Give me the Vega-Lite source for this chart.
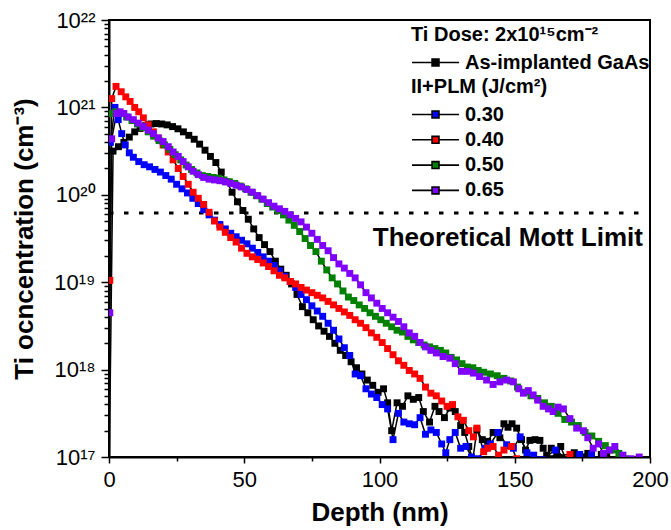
{
"$schema": "https://vega.github.io/schema/vega-lite/v6.json",
"width": 541, "height": 437,
"autosize": {"type": "none"},
"padding": {"left": 109, "top": 20, "right": 21, "bottom": 73},
"background": "white",
"config": {
  "view": {"stroke": "black", "strokeWidth": 2},
  "font": "Liberation Sans",
  "axis": {"domainColor": "black", "domainWidth": 2, "tickColor": "black", "tickWidth": 1.5, "labelColor": "black", "titleColor": "black", "grid": false, "labelFont": "Liberation Sans", "labelFontSize": 22, "titleFont": "Liberation Sans", "titleFontSize": 26, "titleFontWeight": "bold", "labelOverlap": false, "labelFlush": false},
  "legend": {"labelFont": "Liberation Sans", "labelFontSize": 20, "labelFontWeight": "bold", "labelColor": "black", "titleFont": "Liberation Sans", "titleFontSize": 20, "titleFontWeight": "bold", "titleColor": "black", "symbolSize": 529, "symbolStrokeColor": "black", "symbolStrokeWidth": 1.6, "labelOffset": 29, "rowPadding": 2.3, "padding": 0, "titlePadding": 5, "labelLimit": 400, "titleLimit": 400}
},
"datasets": {
  "mott": [{"d": 0, "c": 6.2e19}, {"d": 200, "c": 6.2e19}],
  "note": [{"d": 197.4, "c": 3.2e19, "t": "Theoretical Mott Limit"}],
  "asimp": [
    {"d":0,"c":5.01e16},{"d":1.5,"c":3.16e20},{"d":3.5,"c":3.55e20},{"d":5.5,"c":3.98e20},{"d":7.5,"c":4.57e20},{"d":9.5,"c":5.25e20},{"d":11.5,"c":5.75e20},{"d":13.5,"c":6.17e20},{"d":15.5,"c":6.46e20},{"d":17.5,"c":6.53e20},{"d":19.5,"c":6.46e20},{"d":21.5,"c":6.31e20},{"d":23.5,"c":6.03e20},{"d":25.5,"c":5.69e20},{"d":27.5,"c":5.25e20},{"d":29.5,"c":4.79e20},{"d":31.5,"c":4.32e20},{"d":33.5,"c":3.80e20},{"d":35.5,"c":3.24e20},{"d":37.5,"c":2.75e20},{"d":39.5,"c":2.34e20},{"d":41.5,"c":1.82e20},{"d":43.5,"c":1.41e20},{"d":45.5,"c":1.07e20},{"d":47.5,"c":8.32e19},{"d":49.5,"c":6.61e19},{"d":51.5,"c":5.25e19},{"d":53.5,"c":4.07e19},{"d":55.5,"c":3.24e19},{"d":57.5,"c":2.69e19},{"d":59.5,"c":2.24e19},{"d":61.5,"c":1.74e19},{"d":63.5,"c":1.41e19},{"d":65.5,"c":1.20e19},{"d":67.5,"c":9.55e18},{"d":69.5,"c":7.24e18},{"d":71.5,"c":5.25e18},{"d":73.5,"c":4.47e18},{"d":75.5,"c":3.72e18},{"d":77.5,"c":3.16e18},{"d":79.5,"c":2.75e18},{"d":81.5,"c":2.40e18},{"d":83.5,"c":2.00e18},{"d":85.5,"c":1.66e18},{"d":87.5,"c":1.45e18},{"d":89.5,"c":1.23e18},{"d":91.5,"c":1.05e18},{"d":93.5,"c":8.91e17},{"d":95.5,"c":7.59e17},{"d":97.5,"c":6.61e17},{"d":99.5,"c":5.50e17},{"d":101.5,"c":6.03e17},{"d":103,"c":4.17e17},{"d":104.5,"c":2.00e17},{"d":106.5,"c":4.17e17},{"d":108.5,"c":3.80e17},{"d":110.5,"c":5.01e17},{"d":112.5,"c":4.57e17},{"d":114.5,"c":4.79e17},{"d":116.2,"c":3.31e17},{"d":118.5,"c":2.51e17},{"d":120.5,"c":3.80e17},{"d":122,"c":3.31e17},{"d":124,"c":2.82e17},{"d":126,"c":3.63e17},{"d":128,"c":3.31e17},{"d":130,"c":2.29e17},{"d":131.5,"c":1.91e17},{"d":133,"c":1.32e17},{"d":134.5,"c":9.33e16},{"d":136,"c":2.04e17},{"d":138,"c":1.58e17},{"d":140,"c":1.51e17},{"d":142,"c":1.91e17},{"d":144.5,"c":1.66e17},{"d":146,"c":2.40e17},{"d":147.5,"c":2.19e17},{"d":149,"c":2.40e17},{"d":150.7,"c":2.14e17},{"d":152.5,"c":1.58e17},{"d":154,"c":1.20e17},{"d":155.6,"c":1.55e17},{"d":157.5,"c":1.58e17},{"d":159.3,"c":1.55e17},{"d":160.5,"c":1.26e17},{"d":161.8,"c":1.05e17},{"d":163.5,"c":1.26e17},{"d":165.5,"c":1.15e17},{"d":167,"c":1.32e17},{"d":169,"c":9.12e16},{"d":172,"c":1.12e17},{"d":175,"c":1.00e17},{"d":177,"c":1.10e17},{"d":180,"c":9.33e16},{"d":182,"c":1.07e17},{"d":184,"c":1.10e17},{"d":186,"c":9.12e16}
  ],
  "plm": [
    {"s":"0.30","d":0.5,"c":3.98e20},{"s":"0.30","d":2.2,"c":1.00e21},{"s":"0.30","d":3.4,"c":7.24e20},{"s":"0.30","d":4.7,"c":5.01e20},{"s":"0.30","d":6,"c":3.72e20},{"s":"0.30","d":7.5,"c":3.02e20},{"s":"0.30","d":9,"c":2.69e20},{"s":"0.30","d":11,"c":2.40e20},{"s":"0.30","d":13,"c":2.21e20},{"s":"0.30","d":15,"c":2.09e20},{"s":"0.30","d":17,"c":1.95e20},{"s":"0.30","d":19,"c":1.82e20},{"s":"0.30","d":21,"c":1.66e20},{"s":"0.30","d":23,"c":1.51e20},{"s":"0.30","d":25,"c":1.32e20},{"s":"0.30","d":27,"c":1.17e20},{"s":"0.30","d":29,"c":1.05e20},{"s":"0.30","d":31,"c":9.12e19},{"s":"0.30","d":33,"c":7.94e19},{"s":"0.30","d":35,"c":6.76e19},{"s":"0.30","d":37,"c":5.89e19},{"s":"0.30","d":39,"c":5.13e19},{"s":"0.30","d":41,"c":4.57e19},{"s":"0.30","d":43,"c":4.07e19},{"s":"0.30","d":45,"c":3.63e19},{"s":"0.30","d":47,"c":3.31e19},{"s":"0.30","d":49,"c":3.02e19},{"s":"0.30","d":51,"c":2.75e19},{"s":"0.30","d":53,"c":2.45e19},{"s":"0.30","d":55,"c":2.19e19},{"s":"0.30","d":57,"c":1.95e19},{"s":"0.30","d":59,"c":1.74e19},{"s":"0.30","d":61,"c":1.55e19},{"s":"0.30","d":63,"c":1.35e19},{"s":"0.30","d":65,"c":1.17e19},{"s":"0.30","d":67,"c":1.02e19},{"s":"0.30","d":69,"c":8.71e18},{"s":"0.30","d":71,"c":7.24e18},{"s":"0.30","d":73,"c":6.31e18},{"s":"0.30","d":75,"c":5.37e18},{"s":"0.30","d":77,"c":4.68e18},{"s":"0.30","d":79,"c":4.07e18},{"s":"0.30","d":81,"c":3.39e18},{"s":"0.30","d":83,"c":2.82e18},{"s":"0.30","d":85,"c":2.24e18},{"s":"0.30","d":87,"c":1.78e18},{"s":"0.30","d":89,"c":1.45e18},{"s":"0.30","d":91,"c":8.91e17},{"s":"0.30","d":93,"c":8.51e17},{"s":"0.30","d":95,"c":6.03e17},{"s":"0.30","d":97,"c":5.25e17},{"s":"0.30","d":99,"c":4.79e17},{"s":"0.30","d":101,"c":3.98e17},{"s":"0.30","d":103,"c":3.55e17},{"s":"0.30","d":105,"c":1.58e17},{"s":"0.30","d":107,"c":3.16e17},{"s":"0.30","d":109,"c":2.51e17},{"s":"0.30","d":111,"c":2.40e17},{"s":"0.30","d":113,"c":2.34e17},{"s":"0.30","d":115,"c":2.82e17},{"s":"0.30","d":117,"c":1.82e17},{"s":"0.30","d":119,"c":2.04e17},{"s":"0.30","d":121,"c":1.91e17},{"s":"0.30","d":123,"c":1.41e17},{"s":"0.30","d":124.5,"c":1.12e17},{"s":"0.30","d":126,"c":1.58e17},{"s":"0.30","d":128,"c":1.91e17},{"s":"0.30","d":130,"c":1.26e17},{"s":"0.30","d":132,"c":1.32e17},{"s":"0.30","d":134,"c":1.00e17},{"s":"0.30","d":136.5,"c":9.55e16},{"s":"0.30","d":139,"c":1.26e17},{"s":"0.30","d":141,"c":1.41e17},{"s":"0.30","d":143.8,"c":1.91e17},{"s":"0.30","d":147,"c":1.38e17},{"s":"0.30","d":149.5,"c":1.26e17},{"s":"0.30","d":152,"c":1.70e17},{"s":"0.30","d":154.5,"c":1.12e17},{"s":"0.30","d":157,"c":1.05e17},{"s":"0.30","d":160,"c":9.33e16},{"s":"0.30","d":165,"c":1.20e17},{"s":"0.30","d":170,"c":9.12e16},{"s":"0.30","d":174,"c":1.07e17},{"s":"0.30","d":178.4,"c":1.07e17},
    {"s":"0.40","d":0.3,"c":1.05e19},{"s":"0.40","d":1.0,"c":1.26e21},{"s":"0.40","d":2.6,"c":1.74e21},{"s":"0.40","d":4.5,"c":1.51e21},{"s":"0.40","d":6.2,"c":1.32e21},{"s":"0.40","d":7.8,"c":1.17e21},{"s":"0.40","d":9.5,"c":1.00e21},{"s":"0.40","d":11,"c":8.91e20},{"s":"0.40","d":12.7,"c":7.59e20},{"s":"0.40","d":14.5,"c":6.31e20},{"s":"0.40","d":16.4,"c":5.25e20},{"s":"0.40","d":18.2,"c":4.47e20},{"s":"0.40","d":20,"c":3.72e20},{"s":"0.40","d":21.9,"c":3.09e20},{"s":"0.40","d":23.7,"c":2.51e20},{"s":"0.40","d":25.6,"c":2.00e20},{"s":"0.40","d":27.4,"c":1.62e20},{"s":"0.40","d":29.3,"c":1.32e20},{"s":"0.40","d":31.1,"c":1.07e20},{"s":"0.40","d":33,"c":9.12e19},{"s":"0.40","d":35,"c":7.76e19},{"s":"0.40","d":37,"c":6.31e19},{"s":"0.40","d":39,"c":5.01e19},{"s":"0.40","d":41,"c":4.27e19},{"s":"0.40","d":43,"c":3.72e19},{"s":"0.40","d":45,"c":3.24e19},{"s":"0.40","d":47,"c":2.88e19},{"s":"0.40","d":49,"c":2.45e19},{"s":"0.40","d":51,"c":2.14e19},{"s":"0.40","d":53,"c":1.95e19},{"s":"0.40","d":55,"c":1.82e19},{"s":"0.40","d":57,"c":1.66e19},{"s":"0.40","d":59,"c":1.51e19},{"s":"0.40","d":61,"c":1.35e19},{"s":"0.40","d":63,"c":1.20e19},{"s":"0.40","d":65,"c":1.12e19},{"s":"0.40","d":67,"c":1.02e19},{"s":"0.40","d":69,"c":9.55e18},{"s":"0.40","d":71,"c":8.71e18},{"s":"0.40","d":73,"c":8.13e18},{"s":"0.40","d":75,"c":7.59e18},{"s":"0.40","d":77,"c":7.08e18},{"s":"0.40","d":79,"c":6.61e18},{"s":"0.40","d":81,"c":6.03e18},{"s":"0.40","d":83,"c":5.50e18},{"s":"0.40","d":85,"c":5.01e18},{"s":"0.40","d":87,"c":4.57e18},{"s":"0.40","d":89,"c":4.17e18},{"s":"0.40","d":91,"c":3.72e18},{"s":"0.40","d":93,"c":3.39e18},{"s":"0.40","d":95,"c":3.02e18},{"s":"0.40","d":97,"c":2.63e18},{"s":"0.40","d":99,"c":2.34e18},{"s":"0.40","d":101,"c":2.04e18},{"s":"0.40","d":103,"c":1.74e18},{"s":"0.40","d":105,"c":1.48e18},{"s":"0.40","d":107,"c":1.26e18},{"s":"0.40","d":109,"c":1.12e18},{"s":"0.40","d":111,"c":9.77e17},{"s":"0.40","d":113,"c":8.91e17},{"s":"0.40","d":115,"c":7.94e17},{"s":"0.40","d":117,"c":6.31e17},{"s":"0.40","d":119,"c":5.37e17},{"s":"0.40","d":121,"c":5.01e17},{"s":"0.40","d":123,"c":4.37e17},{"s":"0.40","d":125,"c":3.80e17},{"s":"0.40","d":127,"c":3.98e17},{"s":"0.40","d":129,"c":2.88e17},{"s":"0.40","d":131,"c":2.63e17},{"s":"0.40","d":133,"c":2.00e17},{"s":"0.40","d":134.7,"c":1.70e17},{"s":"0.40","d":136,"c":2.14e17},{"s":"0.40","d":138.5,"c":1.15e17},{"s":"0.40","d":140,"c":1.26e17},{"s":"0.40","d":142,"c":1.32e17},{"s":"0.40","d":144,"c":1.05e17},{"s":"0.40","d":146,"c":1.20e17},{"s":"0.40","d":148.8,"c":1.32e17},{"s":"0.40","d":150.7,"c":9.55e16},{"s":"0.40","d":170.4,"c":1.07e17},
    {"s":"0.50","d":0.5,"c":8.51e20},{"s":"0.50","d":2.5,"c":8.91e20},{"s":"0.50","d":4.5,"c":8.51e20},{"s":"0.50","d":6.5,"c":7.76e20},{"s":"0.50","d":8.5,"c":7.08e20},{"s":"0.50","d":10.5,"c":6.46e20},{"s":"0.50","d":12.5,"c":5.89e20},{"s":"0.50","d":14.5,"c":5.25e20},{"s":"0.50","d":16.5,"c":4.68e20},{"s":"0.50","d":18.5,"c":4.17e20},{"s":"0.50","d":20.5,"c":3.72e20},{"s":"0.50","d":22.5,"c":3.31e20},{"s":"0.50","d":24.5,"c":2.88e20},{"s":"0.50","d":26.5,"c":2.51e20},{"s":"0.50","d":28.5,"c":2.19e20},{"s":"0.50","d":30.5,"c":1.95e20},{"s":"0.50","d":32.5,"c":1.78e20},{"s":"0.50","d":34.5,"c":1.66e20},{"s":"0.50","d":36.5,"c":1.62e20},{"s":"0.50","d":38.5,"c":1.58e20},{"s":"0.50","d":40.5,"c":1.55e20},{"s":"0.50","d":42.5,"c":1.48e20},{"s":"0.50","d":44.5,"c":1.41e20},{"s":"0.50","d":46.5,"c":1.35e20},{"s":"0.50","d":48.5,"c":1.26e20},{"s":"0.50","d":50.5,"c":1.17e20},{"s":"0.50","d":52.5,"c":1.07e20},{"s":"0.50","d":54.5,"c":9.77e19},{"s":"0.50","d":56.5,"c":8.91e19},{"s":"0.50","d":58.5,"c":7.94e19},{"s":"0.50","d":60.5,"c":7.24e19},{"s":"0.50","d":62.5,"c":6.61e19},{"s":"0.50","d":64.5,"c":5.89e19},{"s":"0.50","d":66.5,"c":5.13e19},{"s":"0.50","d":68.5,"c":4.47e19},{"s":"0.50","d":70.5,"c":3.80e19},{"s":"0.50","d":72.5,"c":3.16e19},{"s":"0.50","d":74.5,"c":2.63e19},{"s":"0.50","d":76.5,"c":2.24e19},{"s":"0.50","d":78.5,"c":1.74e19},{"s":"0.50","d":80.5,"c":1.38e19},{"s":"0.50","d":82.5,"c":1.12e19},{"s":"0.50","d":84.5,"c":9.55e18},{"s":"0.50","d":86.5,"c":7.94e18},{"s":"0.50","d":88.5,"c":6.76e18},{"s":"0.50","d":90.5,"c":6.17e18},{"s":"0.50","d":92.5,"c":5.50e18},{"s":"0.50","d":94.5,"c":5.01e18},{"s":"0.50","d":96.5,"c":4.47e18},{"s":"0.50","d":98.5,"c":4.07e18},{"s":"0.50","d":100.5,"c":3.72e18},{"s":"0.50","d":102.5,"c":3.39e18},{"s":"0.50","d":104.5,"c":3.09e18},{"s":"0.50","d":106.5,"c":2.82e18},{"s":"0.50","d":108.5,"c":2.69e18},{"s":"0.50","d":110.5,"c":2.40e18},{"s":"0.50","d":112.5,"c":2.19e18},{"s":"0.50","d":114.5,"c":2.04e18},{"s":"0.50","d":116.5,"c":1.91e18},{"s":"0.50","d":118.5,"c":1.82e18},{"s":"0.50","d":120.5,"c":1.74e18},{"s":"0.50","d":122.5,"c":1.66e18},{"s":"0.50","d":124.5,"c":1.55e18},{"s":"0.50","d":126.5,"c":1.38e18},{"s":"0.50","d":128.5,"c":1.29e18},{"s":"0.50","d":130.5,"c":1.17e18},{"s":"0.50","d":132.5,"c":1.07e18},{"s":"0.50","d":134.5,"c":1.05e18},{"s":"0.50","d":136.5,"c":9.77e17},{"s":"0.50","d":138.5,"c":9.33e17},{"s":"0.50","d":141,"c":8.91e17},{"s":"0.50","d":143.5,"c":8.51e17},{"s":"0.50","d":146,"c":7.94e17},{"s":"0.50","d":148.5,"c":7.41e17},{"s":"0.50","d":151,"c":6.31e17},{"s":"0.50","d":153.5,"c":5.50e17},{"s":"0.50","d":156,"c":5.01e17},{"s":"0.50","d":158.5,"c":4.68e17},{"s":"0.50","d":161,"c":4.17e17},{"s":"0.50","d":163.5,"c":3.80e17},{"s":"0.50","d":166,"c":3.16e17},{"s":"0.50","d":168.5,"c":2.69e17},{"s":"0.50","d":171,"c":2.51e17},{"s":"0.50","d":173.5,"c":2.29e17},{"s":"0.50","d":176,"c":1.91e17},{"s":"0.50","d":178.5,"c":1.74e17},{"s":"0.50","d":181,"c":1.51e17},{"s":"0.50","d":183.5,"c":1.35e17},{"s":"0.50","d":186,"c":1.20e17},{"s":"0.50","d":188.5,"c":1.10e17},{"s":"0.50","d":191,"c":9.55e16},
    {"s":"0.65","d":0.3,"c":4.47e18},{"s":"0.65","d":1.0,"c":4.37e20},{"s":"0.65","d":2.8,"c":8.51e20},{"s":"0.65","d":4.1,"c":8.91e20},{"s":"0.65","d":5.5,"c":8.51e20},{"s":"0.65","d":7.1,"c":7.76e20},{"s":"0.65","d":9,"c":7.24e20},{"s":"0.65","d":10.8,"c":6.61e20},{"s":"0.65","d":12.7,"c":6.03e20},{"s":"0.65","d":14.5,"c":5.50e20},{"s":"0.65","d":16.4,"c":5.01e20},{"s":"0.65","d":18.2,"c":4.47e20},{"s":"0.65","d":20,"c":4.07e20},{"s":"0.65","d":21.9,"c":3.55e20},{"s":"0.65","d":23.7,"c":3.09e20},{"s":"0.65","d":25.6,"c":2.75e20},{"s":"0.65","d":27.4,"c":2.40e20},{"s":"0.65","d":29.3,"c":2.09e20},{"s":"0.65","d":31.1,"c":1.86e20},{"s":"0.65","d":33,"c":1.70e20},{"s":"0.65","d":35,"c":1.58e20},{"s":"0.65","d":37,"c":1.51e20},{"s":"0.65","d":39,"c":1.48e20},{"s":"0.65","d":41,"c":1.45e20},{"s":"0.65","d":43,"c":1.41e20},{"s":"0.65","d":45,"c":1.35e20},{"s":"0.65","d":47,"c":1.29e20},{"s":"0.65","d":49,"c":1.23e20},{"s":"0.65","d":51,"c":1.15e20},{"s":"0.65","d":53,"c":1.07e20},{"s":"0.65","d":55,"c":9.77e19},{"s":"0.65","d":57,"c":8.91e19},{"s":"0.65","d":59,"c":8.13e19},{"s":"0.65","d":61,"c":7.41e19},{"s":"0.65","d":63,"c":6.92e19},{"s":"0.65","d":65,"c":6.46e19},{"s":"0.65","d":67,"c":5.89e19},{"s":"0.65","d":69,"c":5.37e19},{"s":"0.65","d":71,"c":4.90e19},{"s":"0.65","d":73,"c":4.27e19},{"s":"0.65","d":75,"c":3.63e19},{"s":"0.65","d":77,"c":3.09e19},{"s":"0.65","d":79,"c":2.63e19},{"s":"0.65","d":81,"c":2.29e19},{"s":"0.65","d":83,"c":1.91e19},{"s":"0.65","d":85,"c":1.62e19},{"s":"0.65","d":87,"c":1.45e19},{"s":"0.65","d":89,"c":1.26e19},{"s":"0.65","d":91,"c":1.12e19},{"s":"0.65","d":93,"c":9.33e18},{"s":"0.65","d":95,"c":7.59e18},{"s":"0.65","d":97,"c":6.61e18},{"s":"0.65","d":99,"c":5.75e18},{"s":"0.65","d":101,"c":5.01e18},{"s":"0.65","d":103,"c":4.47e18},{"s":"0.65","d":105,"c":3.98e18},{"s":"0.65","d":107,"c":3.55e18},{"s":"0.65","d":109,"c":3.09e18},{"s":"0.65","d":111,"c":2.63e18},{"s":"0.65","d":113,"c":2.40e18},{"s":"0.65","d":115,"c":2.04e18},{"s":"0.65","d":117,"c":1.82e18},{"s":"0.65","d":119,"c":1.66e18},{"s":"0.65","d":121,"c":1.55e18},{"s":"0.65","d":123.5,"c":1.41e18},{"s":"0.65","d":126,"c":1.35e18},{"s":"0.65","d":128,"c":1.17e18},{"s":"0.65","d":130.3,"c":9.55e17},{"s":"0.65","d":132.5,"c":9.55e17},{"s":"0.65","d":134.7,"c":9.12e17},{"s":"0.65","d":137,"c":8.32e17},{"s":"0.65","d":139.6,"c":7.59e17},{"s":"0.65","d":142,"c":6.76e17},{"s":"0.65","d":144.5,"c":7.24e17},{"s":"0.65","d":147,"c":7.59e17},{"s":"0.65","d":149.5,"c":7.24e17},{"s":"0.65","d":151.5,"c":6.03e17},{"s":"0.65","d":153.2,"c":5.37e17},{"s":"0.65","d":155,"c":5.75e17},{"s":"0.65","d":156.8,"c":5.13e17},{"s":"0.65","d":158.5,"c":4.47e17},{"s":"0.65","d":160.5,"c":3.80e17},{"s":"0.65","d":162.5,"c":3.55e17},{"s":"0.65","d":164.2,"c":3.31e17},{"s":"0.65","d":166,"c":3.72e17},{"s":"0.65","d":168,"c":3.55e17},{"s":"0.65","d":170.4,"c":2.75e17},{"s":"0.65","d":172.9,"c":2.14e17},{"s":"0.65","d":175.4,"c":2.00e17},{"s":"0.65","d":177,"c":1.66e17},{"s":"0.65","d":179,"c":1.26e17},{"s":"0.65","d":181,"c":1.41e17},{"s":"0.65","d":182.8,"c":1.10e17},{"s":"0.65","d":185,"c":1.20e17},{"s":"0.65","d":187,"c":1.32e17},{"s":"0.65","d":190,"c":1.05e17},{"s":"0.65","d":193,"c":9.55e16},{"s":"0.65","d":196,"c":1.00e17}
  ]
},
"encoding": {
  "x": {"field": "d", "type": "quantitative",
        "scale": {"domain": [0, 200], "nice": false, "zero": false},
        "axis": {"title": "Depth (nm)", "values": [0, 25, 50, 75, 100, 125, 150, 175, 200],
                 "labelExpr": "datum.value % 50 == 0 ? datum.label : ''",
                 "tickSize": {"condition": {"test": "datum.value % 50 != 0", "value": 4}, "value": 6},
                 "labelPadding": 6, "titlePadding": 9}},
  "y": {"field": "c", "type": "quantitative",
        "scale": {"type": "log", "domain": [1e17, 1e22], "nice": false},
        "axis": {"title": "Ti ocncentration (cm⁻³)",
                 "values": [1e17,2e17,3e17,4e17,5e17,6e17,7e17,8e17,9e17,1e18,2e18,3e18,4e18,5e18,6e18,7e18,8e18,9e18,1e19,2e19,3e19,4e19,5e19,6e19,7e19,8e19,9e19,1e20,2e20,3e20,4e20,5e20,6e20,7e20,8e20,9e20,1e21,2e21,3e21,4e21,5e21,6e21,7e21,8e21,9e21,1e22],
                 "labelExpr": "abs(log(datum.value)/LN10 - round(log(datum.value)/LN10)) > 0.01 ? '' : ['10¹⁷','10¹⁸','10¹⁹','10²⁰','10²¹','10²²'][round(log(datum.value)/LN10) - 17]",
                 "tickSize": {"condition": {"test": "abs(log(datum.value)/LN10 - round(log(datum.value)/LN10)) > 0.01", "value": 5}, "value": 8},
                 "labelPadding": 6, "titlePadding": 16}}
},
"layer": [
  {"data": {"name": "mott"}, "mark": {"type": "line", "color": "black", "strokeWidth": 3, "strokeDash": [4.5, 10.5]}},
  {"data": {"name": "note"}, "mark": {"type": "text", "align": "right", "baseline": "middle", "fontSize": 26, "fontWeight": "bold", "font": "Liberation Sans", "color": "black"}, "encoding": {"text": {"field": "t"}}},
  {"data": {"name": "asimp"}, "mark": {"type": "line", "color": "black", "strokeWidth": 1.5, "clip": true}},
  {"data": {"name": "asimp"}, "mark": {"type": "point", "shape": "square", "filled": true, "size": 48, "opacity": 1, "clip": true},
   "encoding": {"color": {"datum": "As-implanted GaAs", "type": "nominal", "scale": {"range": ["black"]},
     "legend": {"title": "Ti Dose: 2x10¹⁵cm⁻²", "orient": "none", "legendX": 302, "legendY": 5,
                "symbolType": "M-1,0H0.745M1.345,0H3.09M0.745,-0.3H1.345V0.3H0.745Z"}}}},
  {"data": {"name": "plm"}, "mark": {"type": "line", "color": "black", "strokeWidth": 1.5, "clip": true}, "encoding": {"detail": {"field": "s"}}},
  {"data": {"name": "plm"}, "mark": {"type": "point", "shape": "square", "filled": true, "size": 48, "opacity": 1, "clip": true},
   "encoding": {"color": {"field": "s", "type": "nominal",
     "scale": {"domain": ["0.30", "0.40", "0.50", "0.65"], "range": ["#0000FF", "#FF0000", "#008000", "#8000FF"]},
     "legend": {"title": "II+PLM (J/cm²)", "orient": "none", "legendX": 302, "legendY": 57,
                "symbolType": "M-1,0H0.745M1.345,0H3.09M0.745,-0.3H1.345V0.3H0.745Z"}}}}
],
"resolve": {"scale": {"color": "independent"}, "legend": {"color": "independent"}}
}
